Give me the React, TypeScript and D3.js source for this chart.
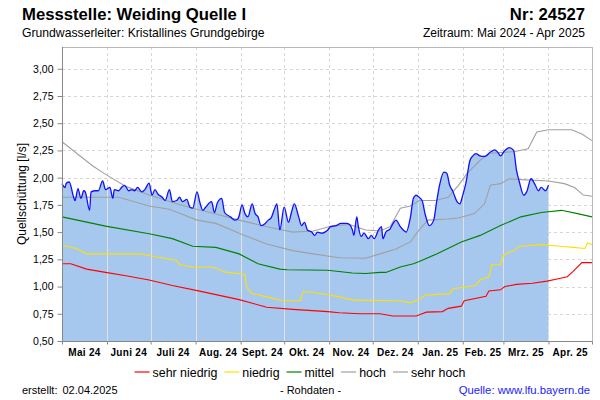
import React, { useEffect, useRef } from 'react';
import * as d3 from 'd3';

type Pt = [string, number];

// Rohdaten (Quellschüttung in l/s)
const rawData: Pt[] = [
  ['2024-05-01', 1.945], ['2024-05-03', 1.91], ['2024-05-04', 1.95], ['2024-05-06', 1.96], ['2024-05-09', 1.82],
  ['2024-05-10', 1.79], ['2024-05-12', 1.9], ['2024-05-14', 1.81], ['2024-05-16', 1.88], ['2024-05-17', 1.87],
  ['2024-05-20', 1.7], ['2024-05-21', 1.87], ['2024-05-24', 1.88], ['2024-05-26', 1.88], ['2024-05-29', 1.97],
  ['2024-05-31', 1.89], ['2024-06-03', 1.91], ['2024-06-05', 1.81], ['2024-06-06', 1.89], ['2024-06-09', 1.88],
  ['2024-06-11', 1.91], ['2024-06-13', 1.93], ['2024-06-16', 1.88], ['2024-06-18', 1.89], ['2024-06-20', 1.88],
  ['2024-06-22', 1.91], ['2024-06-25', 1.87], ['2024-06-27', 1.89], ['2024-06-30', 1.95], ['2024-07-02', 1.84],
  ['2024-07-04', 1.89], ['2024-07-06', 1.85], ['2024-07-09', 1.82], ['2024-07-11', 1.79], ['2024-07-14', 1.89],
  ['2024-07-16', 1.78], ['2024-07-19', 1.79], ['2024-07-21', 1.82], ['2024-07-23', 1.78], ['2024-07-26', 1.8],
  ['2024-07-28', 1.73], ['2024-07-30', 1.72], ['2024-08-02', 1.87], ['2024-08-04', 1.77], ['2024-08-06', 1.7],
  ['2024-08-08', 1.73], ['2024-08-12', 1.78], ['2024-08-14', 1.68], ['2024-08-16', 1.77], ['2024-08-19', 1.81],
  ['2024-08-21', 1.68], ['2024-08-25', 1.64], ['2024-08-28', 1.61], ['2024-08-30', 1.62], ['2024-08-31', 1.65],
  ['2024-09-02', 1.75], ['2024-09-04', 1.67], ['2024-09-06', 1.64], ['2024-09-09', 1.76], ['2024-09-11', 1.67],
  ['2024-09-13', 1.64], ['2024-09-15', 1.56], ['2024-09-18', 1.58], ['2024-09-20', 1.61], ['2024-09-22', 1.63],
  ['2024-09-24', 1.7], ['2024-09-26', 1.76], ['2024-09-28', 1.52], ['2024-10-01', 1.73], ['2024-10-04', 1.59],
  ['2024-10-06', 1.68], ['2024-10-08', 1.76], ['2024-10-11', 1.64], ['2024-10-13', 1.56], ['2024-10-15', 1.59],
  ['2024-10-17', 1.52], ['2024-10-20', 1.5], ['2024-10-22', 1.47], ['2024-10-24', 1.5], ['2024-10-27', 1.49],
  ['2024-10-29', 1.5], ['2024-10-31', 1.52], ['2024-11-02', 1.55], ['2024-11-06', 1.56], ['2024-11-09', 1.58],
  ['2024-11-13', 1.58], ['2024-11-15', 1.57], ['2024-11-17', 1.52], ['2024-11-18', 1.47], ['2024-11-20', 1.64],
  ['2024-11-21', 1.56], ['2024-11-23', 1.46], ['2024-11-25', 1.49], ['2024-11-28', 1.44], ['2024-11-30', 1.47],
  ['2024-12-02', 1.44], ['2024-12-05', 1.52], ['2024-12-07', 1.55], ['2024-12-08', 1.44], ['2024-12-10', 1.5],
  ['2024-12-13', 1.53], ['2024-12-15', 1.58], ['2024-12-17', 1.61], ['2024-12-20', 1.55], ['2024-12-22', 1.52],
  ['2024-12-24', 1.5], ['2024-12-27', 1.64], ['2024-12-29', 1.81], ['2024-12-31', 1.84], ['2025-01-01', 1.83],
  ['2025-01-04', 1.79], ['2025-01-06', 1.67], ['2025-01-09', 1.56], ['2025-01-12', 1.61], ['2025-01-14', 1.78],
  ['2025-01-16', 1.93], ['2025-01-19', 2.05], ['2025-01-21', 2.04], ['2025-01-23', 1.93], ['2025-01-25', 1.88],
  ['2025-01-28', 1.78], ['2025-01-30', 1.76], ['2025-02-01', 1.84], ['2025-02-03', 1.94], ['2025-02-06', 2.16],
  ['2025-02-08', 2.2], ['2025-02-10', 2.22], ['2025-02-13', 2.2], ['2025-02-15', 2.195], ['2025-02-17', 2.2],
  ['2025-02-20', 2.235], ['2025-02-23', 2.255], ['2025-02-25', 2.235], ['2025-02-27', 2.2], ['2025-03-02', 2.25],
  ['2025-03-05', 2.275], ['2025-03-08', 2.25], ['2025-03-10', 2.07], ['2025-03-12', 1.96], ['2025-03-15', 1.84],
  ['2025-03-17', 1.87], ['2025-03-20', 1.99], ['2025-03-23', 1.93], ['2025-03-25', 1.88], ['2025-03-27', 1.91],
  ['2025-03-30', 1.88], ['2025-04-01', 1.93],
];

const sehrNiedrig: Pt[] = [
  ['2024-05-01', 1.21], ['2024-05-07', 1.21], ['2024-05-18', 1.16], ['2024-05-31', 1.13], ['2024-06-14', 1.1],
  ['2024-06-30', 1.06], ['2024-07-16', 1.01], ['2024-08-03', 0.96], ['2024-08-31', 0.88], ['2024-09-19', 0.81],
  ['2024-10-07', 0.79], ['2024-10-31', 0.77], ['2024-11-08', 0.76], ['2024-11-22', 0.75], ['2024-12-06', 0.75],
  ['2024-12-15', 0.73], ['2024-12-31', 0.73], ['2025-01-04', 0.75], ['2025-01-07', 0.765], ['2025-01-18', 0.77],
  ['2025-01-22', 0.8], ['2025-01-31', 0.82], ['2025-02-02', 0.87], ['2025-02-17', 0.91], ['2025-02-19', 0.96],
  ['2025-02-27', 0.97], ['2025-03-02', 1.0], ['2025-03-10', 1.02], ['2025-03-21', 1.03], ['2025-03-31', 1.05],
  ['2025-04-07', 1.07], ['2025-04-14', 1.09], ['2025-04-18', 1.14], ['2025-04-24', 1.22], ['2025-05-01', 1.22],
];

const niedrig: Pt[] = [
  ['2024-05-01', 1.38], ['2024-05-11', 1.35], ['2024-05-18', 1.3], ['2024-06-24', 1.3], ['2024-06-30', 1.285],
  ['2024-07-19', 1.24], ['2024-07-21', 1.2], ['2024-07-30', 1.18], ['2024-08-13', 1.18], ['2024-08-22', 1.13],
  ['2024-08-31', 1.12], ['2024-09-04', 1.11], ['2024-09-05', 0.995], ['2024-09-09', 0.935], ['2024-09-19', 0.905],
  ['2024-09-30', 0.87], ['2024-10-12', 0.87], ['2024-10-14', 0.95], ['2024-10-19', 0.95], ['2024-10-31', 0.925],
  ['2024-11-08', 0.905], ['2024-11-18', 0.875], ['2024-12-20', 0.87], ['2024-12-27', 0.85], ['2025-01-02', 0.88],
  ['2025-01-06', 0.92], ['2025-01-23', 0.935], ['2025-01-25', 0.98], ['2025-02-10', 1.01], ['2025-02-13', 1.06],
  ['2025-02-19', 1.09], ['2025-02-21', 1.2], ['2025-02-27', 1.2], ['2025-03-01', 1.29], ['2025-03-08', 1.33],
  ['2025-03-12', 1.37], ['2025-03-27', 1.385], ['2025-04-09', 1.37], ['2025-04-18', 1.36], ['2025-04-26', 1.35],
  ['2025-04-28', 1.4], ['2025-05-01', 1.385],
];

const mittel: Pt[] = [
  ['2024-05-01', 1.64], ['2024-05-31', 1.555], ['2024-06-30', 1.485], ['2024-07-16', 1.44], ['2024-07-30', 1.37],
  ['2024-08-15', 1.36], ['2024-08-31', 1.3], ['2024-09-13', 1.21], ['2024-09-28', 1.16], ['2024-10-03', 1.155],
  ['2024-10-31', 1.15], ['2024-11-17', 1.125], ['2024-11-26', 1.12], ['2024-12-06', 1.13], ['2024-12-10', 1.13],
  ['2024-12-20', 1.18], ['2024-12-29', 1.21], ['2025-01-02', 1.23], ['2025-01-14', 1.3], ['2025-01-31', 1.41],
  ['2025-02-13', 1.47], ['2025-02-27', 1.56], ['2025-03-13', 1.64], ['2025-03-27', 1.68], ['2025-04-10', 1.7],
  ['2025-04-21', 1.67], ['2025-05-01', 1.64],
];

const hoch: Pt[] = [
  ['2024-05-01', 1.82], ['2024-06-09', 1.82], ['2024-06-30', 1.74], ['2024-07-14', 1.71], ['2024-08-02', 1.61],
  ['2024-08-15', 1.58], ['2024-08-31', 1.49], ['2024-09-19', 1.39], ['2024-10-07', 1.33], ['2024-10-21', 1.3],
  ['2024-11-08', 1.265], ['2024-11-26', 1.26], ['2024-12-06', 1.3], ['2024-12-17', 1.345], ['2024-12-27', 1.41],
  ['2025-01-02', 1.52], ['2025-01-08', 1.61], ['2025-01-22', 1.62], ['2025-01-29', 1.63], ['2025-02-09', 1.67],
  ['2025-02-16', 1.76], ['2025-02-20', 1.93], ['2025-02-27', 1.945], ['2025-03-05', 1.99], ['2025-03-16', 1.98],
  ['2025-04-01', 1.97], ['2025-04-12', 1.945], ['2025-04-19', 1.91], ['2025-04-25', 1.84], ['2025-05-01', 1.83],
];

const sehrHoch: Pt[] = [
  ['2024-05-01', 2.33], ['2024-05-22', 2.11], ['2024-05-31', 2.03], ['2024-06-14', 1.92], ['2024-06-30', 1.84],
  ['2024-07-19', 1.76], ['2024-07-30', 1.72], ['2024-08-11', 1.68], ['2024-08-31', 1.61], ['2024-09-19', 1.55],
  ['2024-10-07', 1.5], ['2024-10-21', 1.51], ['2024-11-04', 1.56], ['2024-11-15', 1.57], ['2024-11-26', 1.52],
  ['2024-12-06', 1.51], ['2024-12-13', 1.55], ['2024-12-20', 1.72], ['2024-12-27', 1.74], ['2025-01-02', 1.79],
  ['2025-01-13', 1.79], ['2025-01-22', 1.82], ['2025-01-29', 1.93], ['2025-02-04', 2.04], ['2025-02-13', 2.16],
  ['2025-02-20', 2.225], ['2025-03-09', 2.24], ['2025-03-18', 2.265], ['2025-03-24', 2.42], ['2025-04-01', 2.44],
  ['2025-04-17', 2.44], ['2025-04-24', 2.4], ['2025-05-01', 2.34],
];

const monthLabels = ['Mai 24', 'Juni 24', 'Juli 24', 'Aug. 24', 'Sept. 24', 'Okt. 24', 'Nov. 24', 'Dez. 24', 'Jan. 25', 'Feb. 25', 'Mrz. 25', 'Apr. 25'];
const yTicks = [0.5, 0.75, 1.0, 1.25, 1.5, 1.75, 2.0, 2.25, 2.5, 2.75, 3.0];
const legendNames = ['sehr niedrig', 'niedrig', 'mittel', 'hoch', 'sehr hoch'];
const legendColors = ['#ff0000', '#ffe000', '#008000', '#a0a0a0', '#a0a0a0'];

const FONT = "'Liberation Sans', Arial, sans-serif";

const App = () => {
  const svgRef = useRef<SVGSVGElement>(null);

  useEffect(() => {
    const svg = d3.select(svgRef.current);
    svg.selectAll('*').remove();
    svg.style('font-family', FONT);

    const parse = d3.timeParse('%Y-%m-%d');
    const toPts = (arr: Pt[]) => arr.map(([d, v]) => ({ date: parse(d) as Date, value: v }));

    const x0 = 62, x1 = 592, yTop = 47, yBot = 341;
    const start = new Date(2024, 4, 1);
    const end = new Date(2025, 4, 1);
    const x = d3.scaleTime().domain([start, end]).range([x0, x1]);
    const y = d3.scaleLinear().domain([0.5, 3.2]).range([yBot, yTop]);
    const months = d3.timeMonth.range(start, d3.timeDay.offset(end, 1));

    // grid
    const grid = svg.append('g');
    grid.selectAll('.hg').data(yTicks.slice(1)).enter().append('line')
      .attr('x1', x0).attr('x2', x1)
      .attr('y1', (d) => Math.round(y(d)) + 0.5).attr('y2', (d) => Math.round(y(d)) + 0.5)
      .attr('stroke', '#d6d6d6').attr('stroke-dasharray', '3,3');
    grid.selectAll('.vg').data(months.slice(1, -1)).enter().append('line')
      .attr('x1', (d) => Math.round(x(d)) + 0.5).attr('x2', (d) => Math.round(x(d)) + 0.5)
      .attr('y1', yTop).attr('y2', yBot)
      .attr('stroke', '#d6d6d6').attr('stroke-dasharray', '3,3');

    // area of raw data
    const raw = toPts(rawData);
    const area = d3.area<{ date: Date; value: number }>()
      .x((d) => x(d.date)).y0(y(0.5)).y1((d) => y(d.value))
      .curve(d3.curveMonotoneX);
    svg.append('path').datum(raw).attr('d', area).attr('fill', '#a6c8ef');

    svg.append('clipPath').attr('id', 'areaClip')
      .append('path').datum(raw).attr('d', area);
    svg.append('g').attr('clip-path', 'url(#areaClip)')
      .selectAll('line').data(months.slice(1, -1)).enter().append('line')
      .attr('x1', (d) => Math.round(x(d)) + 0.5).attr('x2', (d) => Math.round(x(d)) + 0.5)
      .attr('y1', yTop).attr('y2', yBot)
      .attr('stroke', '#e2e2e2');

    // border
    svg.append('line').attr('x1', x0).attr('x2', x1 + 0.5).attr('y1', yTop + 0.5).attr('y2', yTop + 0.5).attr('stroke', '#b8b8b8');
    svg.append('line').attr('x1', x1 + 0.5).attr('x2', x1 + 0.5).attr('y1', yTop).attr('y2', yBot).attr('stroke', '#b8b8b8');

    // percentile lines
    const line = d3.line<{ date: Date; value: number }>().x((d) => x(d.date)).y((d) => y(d.value));
    [sehrNiedrig, niedrig, mittel, hoch, sehrHoch].forEach((s, i) => {
      svg.append('path').datum(toPts(s)).attr('d', line)
        .attr('fill', 'none').attr('stroke', legendColors[i]).attr('stroke-width', 1.1);
    });

    // raw line
    const rawLine = d3.line<{ date: Date; value: number }>()
      .x((d) => x(d.date)).y((d) => y(d.value)).curve(d3.curveMonotoneX);
    svg.append('path').datum(raw).attr('d', rawLine)
      .attr('fill', 'none').attr('stroke', '#1010ff').attr('stroke-width', 1.3);

    // axes
    const yAxis = svg.append('g').attr('transform', `translate(${x0 + 0.5},0)`)
      .call(d3.axisLeft(y).tickValues(yTicks).tickSize(5).tickPadding(4)
        .tickFormat((d) => (d as number).toFixed(2).replace('.', ',')));
    yAxis.select('.domain').attr('stroke', '#888').attr('d', `M-0,${yTop}V${yBot + 0.5}`);
    yAxis.selectAll('.tick line').attr('stroke', '#888');
    yAxis.selectAll('text').attr('font-size', 10.5).attr('font-family', FONT).attr('fill', '#000');

    const xAxis = svg.append('g').attr('transform', `translate(0,${yBot + 0.5})`)
      .call(d3.axisBottom(x).tickValues(months).tickSize(3).tickFormat(() => ''));
    xAxis.select('.domain').attr('stroke', '#888').attr('d', `M${x0},0H${x1 + 0.5}`);
    xAxis.selectAll('.tick line').attr('stroke', '#888');

    svg.append('g').selectAll('text').data(months.slice(0, -1)).enter().append('text')
      .attr('x', (d, i) => (x(d) + x(months[i + 1])) / 2)
      .attr('y', 356)
      .attr('text-anchor', 'middle')
      .attr('font-size', 10).attr('font-weight', 'bold').attr('letter-spacing', 0.3)
      .attr('fill', '#000')
      .text((d, i) => monthLabels[i]);

    // y axis title
    svg.append('text')
      .attr('transform', `translate(26,${(yTop + yBot) / 2}) rotate(-90)`)
      .attr('text-anchor', 'middle').attr('font-size', 12)
      .text('Quellschüttung [l/s]');

    // legend
    const lg = svg.append('g');
    const items = legendNames.map((name, i) => {
      const g = lg.append('g');
      g.append('line').attr('x1', 0).attr('x2', 15).attr('y1', 0.5).attr('y2', 0.5)
        .attr('stroke', legendColors[i]).attr('stroke-width', 1.2);
      const t = g.append('text').attr('x', 18).attr('y', 5).attr('font-size', 12.4).text(name);
      const w = 18 + (t.node() as SVGTextElement).getComputedTextLength();
      return { g, w };
    });
    const gap = 7;
    const total = d3.sum(items, (d) => d.w) + gap * (items.length - 1);
    let cx = 300 - total / 2;
    items.forEach((it) => {
      it.g.attr('transform', `translate(${cx},371.5)`);
      cx += it.w + gap;
    });

    // header
    svg.append('text').attr('x', 22).attr('y', 20).attr('font-size', 16.7).attr('font-weight', 'bold')
      .text('Messstelle: Weiding Quelle I');
    svg.append('text').attr('x', 585).attr('y', 20).attr('text-anchor', 'end').attr('font-size', 16.7).attr('font-weight', 'bold')
      .text('Nr: 24527');
    svg.append('text').attr('x', 22).attr('y', 37).attr('font-size', 12.2)
      .text('Grundwasserleiter: Kristallines Grundgebirge');
    svg.append('text').attr('x', 585).attr('y', 37).attr('text-anchor', 'end').attr('font-size', 12)
      .text('Zeitraum: Mai 2024 - Apr 2025');

    // footer
    svg.append('text').attr('x', 22).attr('y', 394).attr('font-size', 11).text('erstellt:');
    svg.append('text').attr('x', 62.5).attr('y', 394).attr('font-size', 11).text('02.04.2025');
    svg.append('text').attr('x', 310.5).attr('y', 394).attr('text-anchor', 'middle').attr('font-size', 11).text('- Rohdaten -');
    svg.append('text').attr('x', 590).attr('y', 394).attr('text-anchor', 'end').attr('font-size', 11.3)
      .attr('fill', '#1a1aff').text('Quelle: www.lfu.bayern.de');
  }, []);

  return (
    <svg
      ref={svgRef}
      width={600}
      height={400}
      style={{ position: 'absolute', left: 0, top: 0, background: '#fff' }}
    />
  );
};

export default App;
